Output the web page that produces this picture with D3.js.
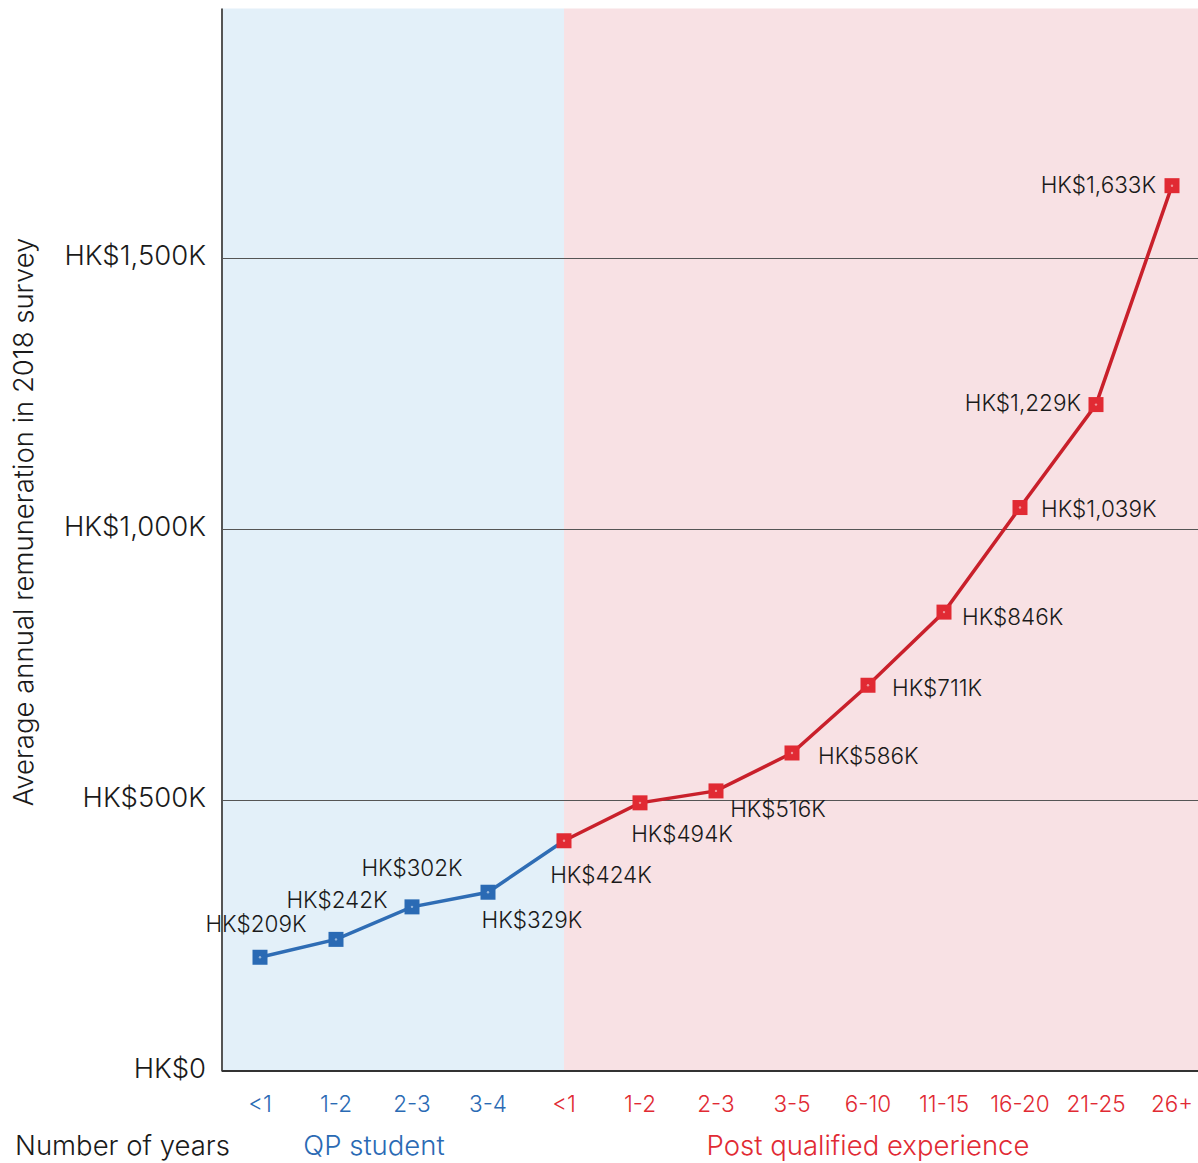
<!DOCTYPE html>
<html>
<head>
<meta charset="utf-8">
<script src="https://cdn.jsdelivr.net/npm/d3@7"></script>
<style>
  html, body { margin: 0; padding: 0; background: #fff; }
  svg { display: block; font-family: Inter, "Noto Sans", sans-serif; font-weight: 300; }
</style>
</head>
<body>
<svg id="chart" width="1198" height="1163"></svg>
<script>
// Years of experience, split into two stages
const stageLabels = ["QP student", "Post qualified experience"];
const studentYears = ["<1", "1-2", "2-3", "3-4"];
const qualifiedYears = ["<1", "1-2", "2-3", "3-5", "6-10", "11-15", "16-20", "21-25", "26+"];

// Average annual remuneration (HK$ thousands)
const studentValues = [209, 242, 302, 329];
const qualifiedValues = [424, 494, 516, 586, 711, 846, 1039, 1229, 1633];

const yTicks = [0, 500, 1000, 1500];
const yTickLabels = ["HK$0", "HK$500K", "HK$1,000K", "HK$1,500K"];

const blue = "#2a6ab4", blueLine = "#2f6db5";
const red = "#e12a33", redLine = "#c9202b";
const ink = "#1a1a1a";
const FONT = "Inter, 'Noto Sans', sans-serif";

const svg = d3.select("#chart");
const W = 1198, H = 1163;
const plotLeft = 222, plotTop = 8.5, plotBottom = 1070.5, step = 76;

const rows = [
  ...studentYears.map((c, i) => ({ key: "s" + i, label: c, value: studentValues[i], stage: 0 })),
  ...qualifiedYears.map((c, i) => ({ key: "q" + i, label: c, value: qualifiedValues[i], stage: 1 }))
];

const x = d3.scaleBand().domain(rows.map(d => d.key))
  .range([plotLeft, plotLeft + step * rows.length]).padding(0);
const cx = k => x(k) + x.bandwidth() / 2;
const y = d3.scaleLinear().domain([0, 1960]).range([plotBottom, plotTop]);

// stage backgrounds
const split = cx("q0");
svg.append("rect").attr("x", plotLeft).attr("y", plotTop).attr("width", split - plotLeft)
  .attr("height", plotBottom - plotTop).attr("fill", "#e3f0f9");
svg.append("rect").attr("x", split).attr("y", plotTop).attr("width", W - split)
  .attr("height", plotBottom - plotTop).attr("fill", "#f8e1e4");

// gridlines
svg.append("g").selectAll("line").data(yTicks.slice(1)).join("line")
  .attr("x1", plotLeft).attr("x2", W)
  .attr("y1", d => Math.round(y(d)) + 0.5).attr("y2", d => Math.round(y(d)) + 0.5)
  .attr("stroke", "#555").attr("stroke-width", 1);

// y axis
const yAxis = svg.append("g").attr("transform", `translate(${plotLeft},0)`)
  .call(d3.axisLeft(y).tickValues(yTicks).tickSize(0).tickPadding(16)
    .tickFormat((d, i) => yTickLabels[i]));
yAxis.select(".domain").remove();
yAxis.selectAll("text").attr("font-size", 27.5).attr("fill", ink)
  .attr("font-family", FONT).attr("font-weight", 300).attr("dy", "0.24em");
svg.append("line").attr("x1", plotLeft).attr("x2", plotLeft).attr("y1", plotTop).attr("y2", plotBottom + 1)
  .attr("stroke", "#555").attr("stroke-width", 2);
svg.append("line").attr("x1", plotLeft).attr("x2", W).attr("y1", plotBottom + 0.5).attr("y2", plotBottom + 0.5)
  .attr("stroke", "#333").attr("stroke-width", 2);

// x axis
const xAxis = svg.append("g").attr("transform", `translate(0,${plotBottom})`)
  .call(d3.axisBottom(x).tickSize(0).tickPadding(26)
    .tickFormat(k => rows.find(r => r.key === k).label));
xAxis.select(".domain").remove();
xAxis.selectAll("text").attr("font-size", 22.5)
  .attr("font-family", FONT).attr("font-weight", 300)
  .attr("fill", k => rows.find(r => r.key === k).stage === 0 ? blue : red);

// axis titles
svg.append("text").attr("x", 15).attr("y", 1155).attr("font-size", 27.5)
  .attr("fill", ink).text("Number of years");
const sCenter = (cx("s0") + cx("s3")) / 2;
const qCenter = (cx("q0") + cx("q8")) / 2;
svg.append("text").attr("x", sCenter).attr("y", 1155).attr("text-anchor", "middle")
  .attr("font-size", 27.5).attr("fill", blue).text(stageLabels[0]);
svg.append("text").attr("x", qCenter).attr("y", 1155).attr("text-anchor", "middle")
  .attr("font-size", 27.5).attr("fill", red).text(stageLabels[1]);
svg.append("text").attr("transform", `translate(33,522) rotate(-90)`)
  .attr("text-anchor", "middle").attr("font-size", 27.5).attr("fill", ink)
  .text("Average annual remuneration in 2018 survey");

// lines
const line = d3.line().x(d => cx(d.key)).y(d => y(d.value));
const studentPath = rows.filter(r => r.stage === 0).concat([rows[4]]);
const qualifiedPath = rows.filter(r => r.stage === 1);
svg.append("path").datum(studentPath).attr("d", line)
  .attr("fill", "none").attr("stroke", blueLine).attr("stroke-width", 3.5);
svg.append("path").datum(qualifiedPath).attr("d", line)
  .attr("fill", "none").attr("stroke", redLine).attr("stroke-width", 3.5);

// markers
const ms = 15;
const markers = svg.append("g").selectAll("g").data(rows).join("g")
  .attr("transform", d => `translate(${cx(d.key)},${y(d.value)})`);
markers.append("rect").attr("x", -ms / 2).attr("y", -ms / 2).attr("width", ms).attr("height", ms)
  .attr("fill", d => d.stage === 0 ? blue : red);
markers.append("circle").attr("r", 1.2).attr("fill", "#fff").attr("opacity", 0.5);

// value labels: [dx, dy, anchor]
const labelPlacement = {
  s0: [-4, -33, "middle"], s1: [1, -39, "middle"], s2: [0, -39, "middle"],
  s3: [44, 28, "middle"], q0: [37, 34, "middle"], q1: [42, 31, "middle"],
  q2: [62, 18, "middle"], q3: [26, 3, "start"], q4: [24, 3, "start"],
  q5: [18, 5, "start"], q6: [21, 2, "start"], q7: [-15, -1, "end"],
  q8: [-16, -1, "end"]
};
const fmt = d3.format(",");
markers.append("text")
  .attr("x", d => labelPlacement[d.key][0])
  .attr("y", d => labelPlacement[d.key][1])
  .attr("dy", "0.35em")
  .attr("text-anchor", d => labelPlacement[d.key][2])
  .attr("font-size", 22.5).attr("fill", ink)
  .text(d => `HK$${fmt(d.value)}K`);
</script>
</body>
</html>
